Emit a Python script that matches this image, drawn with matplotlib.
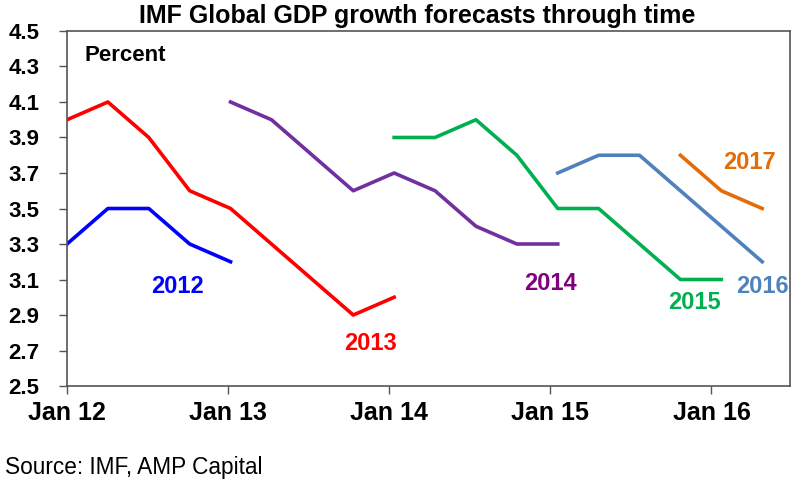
import matplotlib.pyplot as plt

plt.rcParams['font.family'] = ['Liberation Sans', 'DejaVu Sans']

# x = forecast vintage, counted in quarters from Jan 2012 (Jan, Apr, Jul, Oct releases)
q_2012 = [0, 1, 2, 3, 4]
v_2012 = [3.3, 3.5, 3.5, 3.3, 3.2]

q_2013 = [0, 1, 2, 3, 4, 5, 6, 7, 8]
v_2013 = [4.0, 4.1, 3.9, 3.6, 3.5, 3.3, 3.1, 2.9, 3.0]

q_2014 = [4, 5, 6, 7, 8, 9, 10, 11, 12]
v_2014 = [4.1, 4.0, 3.8, 3.6, 3.7, 3.6, 3.4, 3.3, 3.3]

q_2015 = [8, 9, 10, 11, 12, 13, 14, 15, 16]
v_2015 = [3.9, 3.9, 4.0, 3.8, 3.5, 3.5, 3.3, 3.1, 3.1]

q_2016 = [12, 13, 14, 15, 16, 17]
v_2016 = [3.7, 3.8, 3.8, 3.6, 3.4, 3.2]

q_2017 = [15, 16, 17]
v_2017 = [3.8, 3.6, 3.5]

tick_pos = [0, 3.94, 7.88, 11.82, 15.76]
tick_labels = ['Jan 12', 'Jan 13', 'Jan 14', 'Jan 15', 'Jan 16']
y_ticks = [2.5, 2.7, 2.9, 3.1, 3.3, 3.5, 3.7, 3.9, 4.1, 4.3, 4.5]

fig = plt.figure(figsize=(8, 4.91), dpi=100)
ax = fig.add_axes([0.08375, 0.2138, 0.90375, 0.7231])

lw = 2.6
ax.plot(q_2012, v_2012, color='#0000FF', lw=lw)
ax.plot(q_2013, v_2013, color='#FF0000', lw=lw)
ax.plot(q_2014, v_2014, color='#7030A0', lw=lw)
ax.plot(q_2015, v_2015, color='#00B050', lw=lw)
ax.plot(q_2016, v_2016, color='#4F81BD', lw=lw)
ax.plot(q_2017, v_2017, color='#E36C09', lw=lw)

lab = dict(fontsize=17, fontweight='bold', ha='center', va='center')
ax.text(2.7, 3.058, '2012', color='#0000FF', **lab)
ax.text(7.43, 2.74, '2013', color='#FF0000', **lab)
ax.text(11.81, 3.08, '2014', color='#800080', **lab)
ax.text(15.35, 2.97, '2015', color='#00B050', **lab)
ax.text(17.0, 3.06, '2016', color='#4F81BD', **lab)
ax.text(16.7, 3.76, '2017', color='#E36C09', **lab)

ax.text(0.42, 4.36, 'Percent', fontsize=16, fontweight='bold', ha='left', va='center')

ax.set_xlim(0, 17.68)
ax.set_ylim(2.5, 4.5)
ax.set_yticks(y_ticks)
ax.set_yticklabels([f'{v:.1f}' for v in y_ticks], fontsize=16, fontweight='bold')
ax.set_xticks(tick_pos)
ax.set_xticklabels(tick_labels, fontsize=18, fontweight='bold')
ax.tick_params(axis='both', direction='out', length=6, width=1, color='#555555')
ax.tick_params(axis='y', pad=14)
ax.tick_params(axis='x', pad=5)

for s in ax.spines.values():
    s.set_color('#555555')
    s.set_linewidth(1.2)

fig.text(0.5215, 0.967, 'IMF Global GDP growth forecasts through time',
         fontsize=18, fontweight='bold', ha='center', va='center')
fig.text(0.006, 0.047, 'Source: IMF, AMP Capital', fontsize=16.3, ha='left', va='center')

fig.savefig('out.png', dpi=100)
